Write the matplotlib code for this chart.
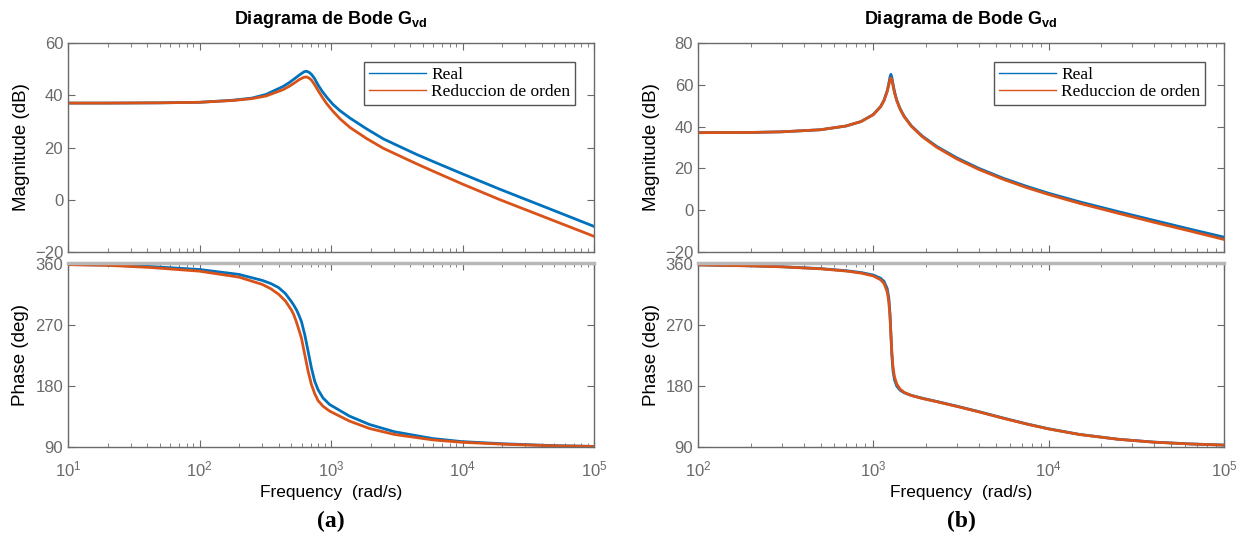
import matplotlib.pyplot as plt
from matplotlib.lines import Line2D

plt.rcParams['font.family'] = ['Liberation Sans', 'DejaVu Sans']
plt.rcParams['mathtext.fontset'] = 'custom'
plt.rcParams['mathtext.rm'] = 'Liberation Sans'
plt.rcParams['mathtext.bf'] = 'Liberation Sans:bold'
plt.rcParams['mathtext.it'] = 'Liberation Sans:italic'

# ---- (a) values ----
freq_mag_a = [10, 20, 50, 100, 180, 250, 320, 430, 480, 530, 570, 600, 625, 650, 680, 710,
              750, 800, 860, 930, 1030, 1170, 1400, 1870, 2500, 3350, 4500, 6000, 10000,
              19300, 50000, 100000]
mag_real_a = [37.0, 37.0, 37.1, 37.3, 38.1, 38.9, 40.3, 43.3, 44.8, 46.4, 47.6, 48.4, 49.0, 49.2,
              48.8, 48.0, 46.4, 43.8, 41.4, 39.2, 36.6, 34.1, 31.2, 27.1, 23.3, 20.3, 17.3, 14.6,
              9.9, 4.0, -4.2, -10.2]
mag_red_a = [37.0, 37.0, 37.1, 37.3, 38.0, 38.7, 39.7, 42.1, 43.4, 44.8, 45.9, 46.5, 46.9, 47.0,
             46.6, 45.8, 44.1, 41.7, 39.2, 36.7, 34.0, 31.0, 27.6, 23.4, 19.7, 16.7, 13.7, 10.9,
             6.0, 0.0, -8.1, -14.0]
freq_ph_a = [10, 20, 42, 100, 200, 300, 350, 400, 450, 500, 520, 546, 570, 596, 632, 670, 710,
             752, 797, 869, 977, 1384, 1963, 3035, 5930, 9815, 20100, 50000, 100000]
ph_real_a = [359.2, 358.5, 356.3, 351.9, 344.6, 335.8, 331.0, 325.1, 316.4, 304.5, 299.5, 292.5,
             284.5, 275.1, 255.4, 231.0, 206.5, 187.0, 174.6, 162.4, 152.6, 135.5, 123.2, 112.5,
             102.5, 98.0, 94.8, 92.0, 90.9]
ph_red_a = [359.0, 358.0, 354.9, 349.4, 340.6, 329.9, 323.3, 315.2, 305.4, 292.1, 285.5, 274.4,
            263.0, 250.6, 226.0, 201.6, 182.0, 168.7, 158.5, 150.2, 142.9, 128.2, 117.3, 108.5,
            100.5, 97.0, 94.2, 91.7, 90.8]

# ---- (b) values ----
freq_b = [100, 200, 300, 500, 700, 850, 1000, 1100, 1150, 1200, 1225, 1245, 1260, 1275, 1295,
          1320, 1360, 1420, 1500, 1650, 1900, 2300, 3000, 4000, 5500, 7500, 10000, 15000,
          25000, 40000, 65000, 100000]
mag_real_b = [37.1, 37.2, 37.5, 38.5, 40.3, 42.4, 45.8, 49.6, 52.6, 57.2, 60.6, 63.8, 65.0,
              63.6, 60.3, 56.7, 52.7, 48.6, 44.9, 40.3, 35.5, 30.5, 25.0, 20.0, 15.3, 11.4,
              8.1, 4.0, -0.7, -4.9, -9.2, -12.9]
mag_red_b = [37.1, 37.2, 37.5, 38.5, 40.3, 42.4, 45.7, 49.5, 52.4, 56.8, 59.9, 62.5, 63.3,
             62.3, 59.6, 56.3, 52.4, 48.4, 44.7, 40.1, 35.2, 30.1, 24.5, 19.5, 14.8, 10.8,
             7.5, 3.3, -1.5, -5.8, -10.1, -14.0]
ph_real_b = [358.7, 357.3, 356.0, 353.2, 350.1, 347.4, 343.7, 339.0, 334.4, 323.7, 310.1,
             286.2, 255.9, 225.8, 202.4, 189.1, 179.8, 173.9, 170.0, 166.1, 162.0, 157.2,
             150.2, 142.2, 132.8, 124.1, 116.9, 108.6, 101.4, 97.2, 94.5, 92.9]
ph_red_b = [358.6, 357.2, 355.8, 352.9, 349.6, 346.6, 342.3, 336.8, 331.4, 319.0, 304.3,
            281.4, 255.9, 230.3, 207.8, 193.4, 182.9, 175.4, 170.6, 165.9, 161.6, 156.8,
            149.8, 141.8, 132.4, 123.8, 116.6, 108.4, 101.3, 97.1, 94.4, 92.8]

labels = ['Real', 'Reduccion de orden']
c_real = '#0072BD'
c_red = '#D95319'
gray = '#6a6a6a'

W, H = 1246, 538
fig = plt.figure(figsize=(W / 100, H / 100), dpi=100)


def box(l, t, r, b):
    return [l / W, 1 - b / H, (r - l) / W, (b - t) / H]


def style(ax):
    for s in ax.spines.values():
        s.set_color(gray)
        s.set_linewidth(1.0)
    ax.tick_params(which='both', direction='in', top=True, right=True, colors=gray,
                   labelsize=12, labelcolor=gray)
    ax.tick_params(which='major', length=5)
    ax.tick_params(which='minor', length=3)
    ax.set_xscale('log')


def panel(left, right, fm, mr, mo, fp, pr, po, xlim, ylim_mag, yt_mag, tag):
    axm = fig.add_axes(box(left, 43, right, 252))
    axp = fig.add_axes(box(left, 262.5, right, 447))
    for ax in (axm, axp):
        style(ax)
        ax.set_xlim(xlim)
    axm.plot(fm, mr, color=c_real, lw=2.0)
    axm.plot(fm, mo, color=c_red, lw=2.0)
    axp.plot(fp, pr, color=c_real, lw=2.0)
    axp.plot(fp, po, color=c_red, lw=2.0)
    axm.set_ylim(ylim_mag)
    axm.set_yticks(yt_mag)
    axm.tick_params(labelbottom=False)
    axp.set_ylim(90, 362.2)
    axp.set_yticks([90, 180, 270, 360])
    axp.spines['top'].set_color('#b8b8b8')
    axp.spines['top'].set_linewidth(2.5)
    axp.tick_params(axis='x', which='major', pad=9)

    handles = [Line2D([], [], color=c_real, lw=1.0), Line2D([], [], color=c_red, lw=1.0)]
    leg = axm.legend(handles, labels, loc='upper right', bbox_to_anchor=(0.964, 0.909),
                     borderaxespad=0, frameon=True, fancybox=False, framealpha=1,
                     prop={'family': 'Liberation Serif', 'size': 12.5},
                     handlelength=3.3, handletextpad=0.3, labelspacing=0.05, borderpad=0.28)
    leg.get_frame().set_edgecolor('#555555')
    leg.get_frame().set_linewidth(1.0)

    xc = (left + right) / 2 / W
    fig.text(xc, 1 - 20 / H, r'Diagrama de Bode G$_{\mathbf{vd}}$', ha='center', va='center',
             fontsize=13, fontweight='bold')
    fig.text(xc, 1 - 493 / H, 'Frequency  (rad/s)', ha='center', va='center', fontsize=12.5)
    fig.text(xc, 1 - 521 / H, tag, ha='center', va='center', fontsize=17,
             fontweight='bold', family='Liberation Serif')
    fig.text((left - 46) / W, 1 - 147 / H, 'Magnitude (dB)', rotation=90, ha='center',
             va='center', fontsize=13.5)
    fig.text((left - 47) / W, 1 - 355 / H, 'Phase (deg)', rotation=90, ha='center',
             va='center', fontsize=13.5)


panel(68, 594, freq_mag_a, mag_real_a, mag_red_a, freq_ph_a, ph_real_a, ph_red_a,
      (10, 1e5), (-20, 60), [-20, 0, 20, 40, 60], '(a)')
panel(698, 1224, freq_b, mag_real_b, mag_red_b, freq_b, ph_real_b, ph_red_b,
      (100, 1e5), (-20, 80), [-20, 0, 20, 40, 60, 80], '(b)')

fig.savefig('out.png', dpi=100)
